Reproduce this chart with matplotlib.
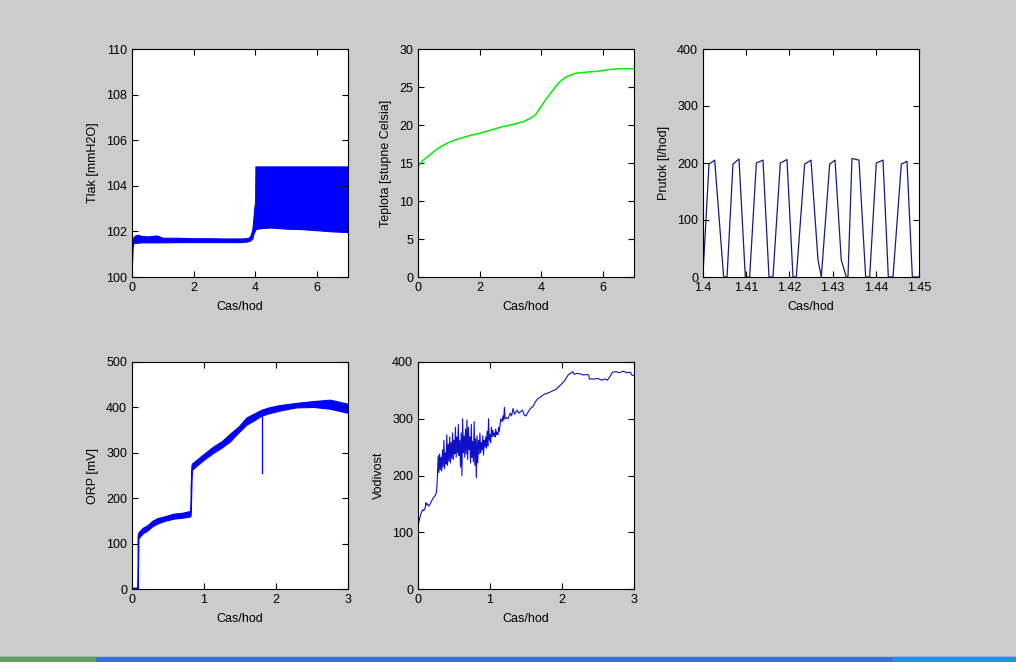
import matplotlib
matplotlib.use("Agg")
import matplotlib.pyplot as plt
from matplotlib.patches import Rectangle

plt.rcParams['font.family'] = ['Liberation Sans', 'DejaVu Sans']

# ---------------- data ----------------
xlabel_text = "Cas/hod"

# Tlak (pressure) envelope of the dense signal
tlak_t = [0, 0.02, 0.05, 0.1, 0.2, 0.3, 0.5, 0.8, 1.0, 1.5, 2.0, 2.5, 3.0, 3.5, 3.7, 3.8, 3.85,
          3.9, 3.93, 3.96, 3.99, 4.0, 4.2, 4.5, 5.0, 5.5, 6.0, 6.5, 7.0]
tlak_lo = [100.6, 101.3, 101.5, 101.5, 101.5, 101.52, 101.52, 101.52, 101.52, 101.53, 101.53, 101.53,
           101.53, 101.53, 101.55, 101.58, 101.62, 101.7, 101.87, 101.98, 102.05, 102.1, 102.15,
           102.17, 102.12, 102.1, 102.05, 102.0, 101.97]
tlak_hi = [101.4, 101.65, 101.75, 101.82, 101.85, 101.8, 101.78, 101.82, 101.72, 101.72, 101.7, 101.7,
           101.69, 101.69, 101.7, 101.74, 101.85, 102.1, 102.5, 103.0, 103.3, 104.85, 104.85,
           104.85, 104.85, 104.85, 104.85, 104.85, 104.85]

# Teplota (temperature)
tep_t = [0, 0, 0.01, 0.05, 0.15, 0.3, 0.45, 0.6, 0.8, 1.0, 1.25, 1.5, 1.75, 2.0, 2.25, 2.5, 2.75,
         3.0, 3.2, 3.4, 3.6, 3.8, 3.9, 4.0, 4.15, 4.3, 4.45, 4.6, 4.75, 4.9, 5.1, 5.3, 5.6, 5.9,
         6.2, 6.5, 6.8, 7.0]
tep_v = [16.8, 13.6, 14.6, 14.8, 15.3, 15.8, 16.3, 16.8, 17.3, 17.7, 18.1, 18.4, 18.7, 18.9, 19.2,
         19.5, 19.8, 20.0, 20.2, 20.4, 20.8, 21.3, 21.9, 22.5, 23.4, 24.2, 25.0, 25.7, 26.2, 26.5,
         26.8, 26.9, 27.0, 27.1, 27.3, 27.4, 27.4, 27.4]

# Prutok (flow) in the zoomed window
pru_t = [1.4000, 1.40139, 1.40270, 1.40478, 1.40556, 1.40694, 1.40833, 1.40980, 1.41080, 1.41235,
         1.41389, 1.41528, 1.41620, 1.41790, 1.41944, 1.42083, 1.42160, 1.42353, 1.42500, 1.42662,
         1.42739, 1.42932, 1.43056, 1.43200, 1.43318, 1.43356, 1.43449, 1.43611, 1.43765, 1.43858,
         1.44012, 1.44167, 1.44290, 1.44398, 1.44591, 1.44722, 1.44846, 1.4500]
pru_v = [5, 198, 205, 0, 0, 198, 207, 0, 0, 200, 205, 0, 0, 200, 206, 0, 0, 198, 205, 30, 0,
         198, 205, 30, 0, 0, 208, 205, 0, 0, 200, 205, 0, 0, 198, 203, 0, 0]

# ORP envelope
orp_t = [0, 0.077, 0.078, 0.09, 0.15, 0.21, 0.28, 0.35, 0.45, 0.58, 0.7, 0.81, 0.815, 0.825, 0.83,
         0.9, 1.0, 1.13, 1.25, 1.36, 1.48, 1.59, 1.7, 1.8, 1.9, 2.05, 2.28, 2.52, 2.75, 3.0]
orp_lo = [0, 0, 0, 112, 123, 128, 138, 144, 150, 155, 157, 160, 165, 225, 262, 272, 285, 300,
          312, 325, 345, 362, 372, 382, 387, 393, 400, 401, 397, 388]
orp_hi = [3, 3, 118, 125, 135, 140, 150, 156, 160, 166, 168, 172, 225, 270, 276, 285, 298, 314,
          326, 342, 358, 378, 387, 395, 400, 405, 410, 414, 417, 408]
orp_spike_t = [1.80, 1.80]
orp_spike_v = [388, 255]

# Vodivost (conductivity)
vod_t = [0, 0.01, 0.02, 0.03, 0.05, 0.07, 0.08, 0.1, 0.11, 0.12, 0.13, 0.15, 0.17, 0.2, 0.22,
         0.24, 0.25, 0.26,
         0.27, 0.28, 0.29, 0.30, 0.31, 0.32, 0.33, 0.34, 0.35, 0.36, 0.37, 0.38, 0.39, 0.40,
         0.41, 0.42, 0.43, 0.44, 0.45, 0.46, 0.47, 0.48, 0.49, 0.50, 0.51, 0.52, 0.53, 0.54,
         0.55, 0.56, 0.57, 0.58, 0.59, 0.60, 0.61, 0.62, 0.63, 0.64, 0.65, 0.66, 0.67, 0.68,
         0.69, 0.70, 0.71, 0.72, 0.73, 0.74, 0.75, 0.76, 0.77, 0.78, 0.79, 0.80, 0.81, 0.82,
         0.83, 0.84, 0.85, 0.86, 0.87, 0.88, 0.89, 0.90, 0.91, 0.92, 0.93, 0.94, 0.95, 0.96,
         0.97, 0.98, 0.99, 1.00, 1.01, 1.02, 1.03, 1.04, 1.05, 1.06, 1.07, 1.08, 1.09, 1.10,
         1.11, 1.12, 1.13, 1.14, 1.15,
         1.17, 1.18, 1.19, 1.20, 1.21, 1.23, 1.25, 1.28, 1.30, 1.32, 1.34, 1.36, 1.38, 1.40,
         1.42, 1.45, 1.48, 1.50, 1.53, 1.56, 1.60, 1.63, 1.67, 1.70, 1.75, 1.80, 1.85, 1.88,
         1.92, 1.95, 2.00, 2.03, 2.06, 2.09, 2.12, 2.15, 2.17, 2.20, 2.25, 2.30, 2.35, 2.37,
         2.38, 2.45, 2.50, 2.55, 2.60, 2.63, 2.66, 2.70, 2.75, 2.80, 2.85, 2.90, 2.95, 2.97, 3.0]
vod_v = [100, 118, 122, 128, 136, 140, 138, 143, 152, 148, 150, 146, 150, 158, 162, 165, 168, 175,
         200, 235, 205, 238, 210, 232, 208, 245, 215, 262, 212, 240, 220, 272,
         218, 255, 225, 268, 222, 258, 230, 275, 228, 262, 238, 285, 232, 268,
         240, 290, 235, 262, 215, 275, 200, 300, 240, 270, 232, 282, 238, 298,
         228, 285, 245, 268, 222, 290, 232, 260, 225, 295, 218, 265, 196, 270,
         222, 262, 238, 275, 240, 258, 245, 270, 236, 262, 250, 268, 248, 278,
         252, 300, 262, 272, 258, 285, 268, 280, 270, 275, 268, 282, 272, 276,
         272, 285, 278, 290, 300,
         295, 305, 298, 320, 300, 302, 300, 310, 305, 318, 308, 312, 315, 310,
         312, 315, 306, 305, 312, 318, 322, 330, 336, 338, 343, 345, 348, 350,
         352, 356, 362, 366, 372, 378, 380, 383, 378, 380, 379, 377, 378, 377,
         370, 370, 371, 368, 370, 368, 373, 382, 383, 381, 384, 381, 382, 377, 376]

# ---------------- figure ----------------
W, H = 1016, 662
fig = plt.figure(figsize=(W / 100, H / 100), dpi=100)
fig.patch.set_facecolor('#cccccc')

def frac(x0, y0, x1, y1):
    return [x0 / W, 1 - y1 / H, (x1 - x0) / W, (y1 - y0) / H]

def style(ax, ylabel):
    ax.set_facecolor('white')
    ax.tick_params(direction='in', length=4, width=0.8, top=True, right=True,
                   labelsize=9, pad=3.5, colors='black')
    for s in ax.spines.values():
        s.set_linewidth(0.8)
        s.set_color('black')
    ax.set_xlabel(xlabel_text, fontsize=9, labelpad=5.5)
    ax.set_ylabel(ylabel, fontsize=9, labelpad=5)

ax1 = fig.add_axes(frac(132, 49, 348, 277))
ax1.fill_between(tlak_t, tlak_lo, tlak_hi, color='#0000ff', linewidth=0.8, edgecolor='#0000ff')
ax1.set_xlim(0, 7); ax1.set_ylim(100, 110)
ax1.set_xticks([0, 2, 4, 6]); ax1.set_yticks([100, 102, 104, 106, 108, 110])
style(ax1, "Tlak [mmH2O]")

ax2 = fig.add_axes(frac(418, 49, 634, 277))
ax2.plot(tep_t, tep_v, color='#00ee00', linewidth=1.1)
ax2.set_xlim(0, 7); ax2.set_ylim(0, 30)
ax2.set_xticks([0, 2, 4, 6]); ax2.set_yticks([0, 5, 10, 15, 20, 25, 30])
style(ax2, "Teplota [stupne Celsia]")

ax3 = fig.add_axes(frac(703, 49, 919, 277))
ax3.plot(pru_t, pru_v, color='#1a1a7a', linewidth=0.9)
ax3.set_xlim(1.4, 1.45); ax3.set_ylim(0, 400)
ax3.set_xticks([1.4, 1.41, 1.42, 1.43, 1.44, 1.45])
ax3.set_xticklabels(["1.4", "1.41", "1.42", "1.43", "1.44", "1.45"])
ax3.set_yticks([0, 100, 200, 300, 400])
style(ax3, "Prutok [l/hod]")

ax4 = fig.add_axes(frac(132, 362, 348, 589))
ax4.fill_between(orp_t, orp_lo, orp_hi, color='#0000ff', linewidth=0.8, edgecolor='#0000ff')
ax4.plot(orp_spike_t, orp_spike_v, color='#0000ff', linewidth=0.9)
ax4.set_xlim(0, 3); ax4.set_ylim(0, 500)
ax4.set_xticks([0, 1, 2, 3]); ax4.set_yticks([0, 100, 200, 300, 400, 500])
style(ax4, "ORP [mV]")

ax5 = fig.add_axes(frac(418, 362, 634, 589))
ax5.plot(vod_t, vod_v, color='#1010c8', linewidth=0.8)
ax5.set_xlim(0, 3); ax5.set_ylim(0, 400)
ax5.set_xticks([0, 1, 2, 3]); ax5.set_yticks([0, 100, 200, 300, 400])
style(ax5, "Vodivost")

# Windows taskbar strip at the bottom of the screenshot
fig.add_artist(Rectangle((0, 0), 1, 5 / H, transform=fig.transFigure, color='#3c6fd8', zorder=10))
fig.add_artist(Rectangle((0, 0), 95 / W, 5 / H, transform=fig.transFigure, color='#5fa35a', zorder=11))
fig.add_artist(Rectangle((893 / W, 0), 1 - 893 / W, 5 / H, transform=fig.transFigure, color='#1e93e8', zorder=11))

fig.savefig("out.png", dpi=100, facecolor=fig.get_facecolor())
